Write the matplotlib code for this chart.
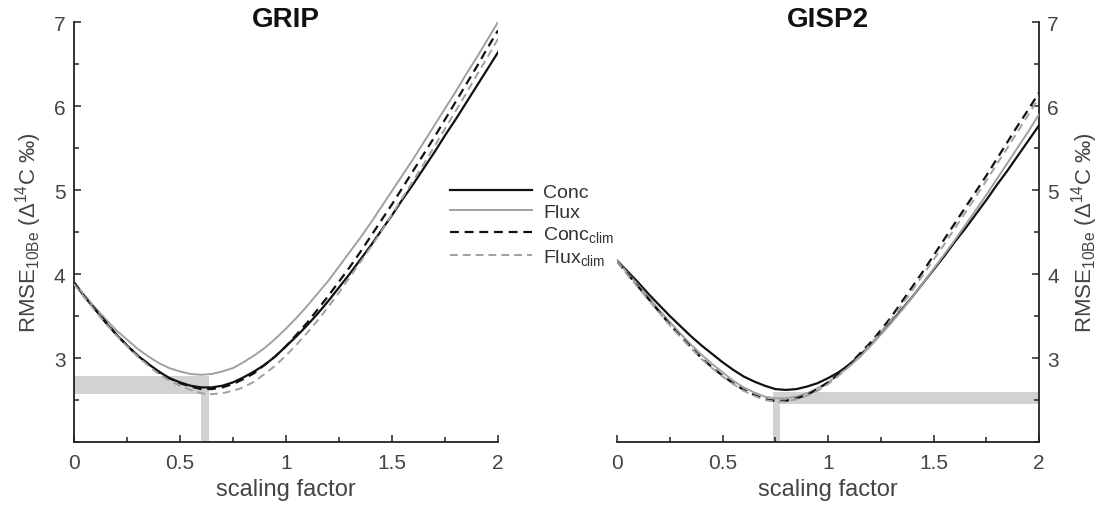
import numpy as np
import matplotlib
matplotlib.use('Agg')
from matplotlib import pyplot as plt
from matplotlib.ticker import MultipleLocator

plt.rcParams['font.family'] = ['Liberation Sans', 'DejaVu Sans']
plt.rcParams['mathtext.fontset'] = 'custom'
plt.rcParams['mathtext.rm'] = 'Liberation Sans'
plt.rcParams['mathtext.it'] = 'Liberation Sans:italic'

# scaling factors at which RMSE was evaluated
scale = np.round(np.arange(0, 2.001, 0.05), 2)

# GRIP RMSE curves (permil)
grip_conc = [3.90, 3.73, 3.58, 3.42, 3.28, 3.15, 3.03, 2.93, 2.84, 2.76,
             2.71, 2.67, 2.65, 2.65, 2.67, 2.71, 2.77, 2.84, 2.92, 3.02,
             3.14, 3.26, 3.39, 3.53, 3.68, 3.84, 4.00, 4.17, 4.34, 4.52,
             4.70, 4.89, 5.07, 5.26, 5.45, 5.65, 5.84, 6.04, 6.24, 6.44, 6.64]
grip_flux = [3.90, 3.75, 3.60, 3.46, 3.33, 3.22, 3.11, 3.02, 2.94, 2.88,
             2.84, 2.81, 2.80, 2.81, 2.84, 2.88, 2.95, 3.03, 3.12, 3.23,
             3.35, 3.48, 3.62, 3.77, 3.92, 4.09, 4.26, 4.43, 4.61, 4.80,
             4.99, 5.18, 5.37, 5.57, 5.77, 5.97, 6.17, 6.38, 6.58, 6.79, 7.00]
grip_conc_clim = [3.90, 3.73, 3.58, 3.43, 3.28, 3.15, 3.03, 2.93, 2.83, 2.76,
                  2.70, 2.66, 2.63, 2.63, 2.65, 2.69, 2.75, 2.82, 2.92, 3.02,
                  3.14, 3.28, 3.42, 3.58, 3.74, 3.91, 4.08, 4.26, 4.45, 4.64,
                  4.83, 5.03, 5.23, 5.43, 5.63, 5.84, 6.05, 6.26, 6.47, 6.69, 6.90]
grip_flux_clim = [3.88, 3.72, 3.56, 3.41, 3.27, 3.14, 3.02, 2.91, 2.81, 2.73,
                  2.67, 2.62, 2.58, 2.57, 2.58, 2.61, 2.65, 2.72, 2.81, 2.91,
                  3.03, 3.16, 3.30, 3.45, 3.61, 3.78, 3.96, 4.14, 4.32, 4.51,
                  4.71, 4.91, 5.11, 5.31, 5.52, 5.73, 5.94, 6.15, 6.37, 6.58, 6.80]

# GISP2 RMSE curves (permil)
gisp_conc = [4.16, 4.03, 3.90, 3.76, 3.63, 3.50, 3.38, 3.26, 3.15, 3.05,
             2.95, 2.86, 2.78, 2.72, 2.67, 2.63, 2.62, 2.63, 2.66, 2.70,
             2.76, 2.83, 2.92, 3.03, 3.15, 3.29, 3.43, 3.58, 3.73, 3.89,
             4.05, 4.21, 4.38, 4.54, 4.71, 4.88, 5.06, 5.23, 5.41, 5.59, 5.77]
gisp_flux = [4.16, 4.01, 3.87, 3.72, 3.57, 3.43, 3.29, 3.16, 3.04, 2.93,
             2.83, 2.73, 2.65, 2.59, 2.54, 2.52, 2.52, 2.54, 2.58, 2.64,
             2.71, 2.80, 2.90, 3.01, 3.14, 3.28, 3.42, 3.57, 3.73, 3.89,
             4.06, 4.23, 4.40, 4.58, 4.76, 4.94, 5.13, 5.32, 5.51, 5.70, 5.90]
gisp_conc_clim = [4.15, 4.00, 3.85, 3.70, 3.55, 3.40, 3.26, 3.13, 3.00, 2.89,
                  2.79, 2.70, 2.62, 2.56, 2.51, 2.49, 2.49, 2.52, 2.56, 2.63,
                  2.71, 2.81, 2.92, 3.05, 3.18, 3.33, 3.49, 3.67, 3.85, 4.03,
                  4.22, 4.41, 4.60, 4.79, 4.98, 5.17, 5.37, 5.57, 5.77, 5.96, 6.16]
gisp_flux_clim = [4.15, 3.99, 3.84, 3.69, 3.54, 3.39, 3.25, 3.12, 2.99, 2.88,
                  2.78, 2.69, 2.61, 2.55, 2.50, 2.48, 2.48, 2.51, 2.55, 2.61,
                  2.69, 2.79, 2.90, 3.02, 3.16, 3.31, 3.46, 3.63, 3.81, 3.99,
                  4.17, 4.35, 4.54, 4.73, 4.92, 5.11, 5.31, 5.50, 5.70, 5.90, 6.10]

# range of best scaling factor and of minimum RMSE for each core
grip_best_scale = [0.60, 0.635]
grip_min_rmse = [2.57, 2.79]
gisp_best_scale = [0.74, 0.77]
gisp_min_rmse = [2.45, 2.60]

labels = ['Conc', 'Flux', r'Conc$_{\rm clim}$', r'Flux$_{\rm clim}$']
styles = [dict(color='#111111', lw=1.6, ls='-'),
          dict(color='#a0a0a0', lw=1.4, ls='-'),
          dict(color='#111111', lw=1.6, ls=(0, (4, 2.6))),
          dict(color='#a0a0a0', lw=1.4, ls=(0, (4, 2.6)))]
band = '#d2d2d2'
ylab = r'RMSE$_{\rm 10Be}$ (Δ$^{\rm 14}$C ‰)'

fig = plt.figure(figsize=(11.07, 5.06), dpi=100)
axL = fig.add_axes([0.0668, 0.1245, 0.3831, 0.83])
axR = fig.add_axes([0.5574, 0.1245, 0.3812, 0.83])


def styleAxis(ax, side, title):
    '''MATLAB-like axis: two spines, inward ticks, halves as minor ticks'''
    ax.set_xlim(0, 2)
    ax.set_ylim(2, 7)
    ax.set_xticks([0, 0.5, 1, 1.5, 2])
    ax.set_xticklabels(['0', '0.5', '1', '1.5', '2'])
    ax.set_yticks([3, 4, 5, 6, 7])
    ax.xaxis.set_minor_locator(MultipleLocator(0.25))
    ax.yaxis.set_minor_locator(MultipleLocator(0.5))
    for s in ['top', 'left', 'right']:
        ax.spines[s].set_visible(False)
    ax.spines[side].set_visible(True)
    for s in ['bottom', side]:
        ax.spines[s].set_linewidth(1.3)
        ax.spines[s].set_color('#222222')
    ax.tick_params(which='both', direction='in', colors='#222222',
                   labelcolor='#444444', labelsize=15, width=1.1)
    ax.tick_params(axis='x', which='both', pad=8)
    ax.tick_params(axis='y', which='both', pad=6)
    ax.tick_params(which='major', length=5)
    ax.tick_params(which='minor', length=3.5)
    if side == 'right':
        ax.yaxis.tick_right()
        ax.yaxis.set_label_position('right')
    ax.set_xlabel('scaling factor', fontsize=17, color='#444444', labelpad=4)
    ax.set_ylabel(ylab, fontsize=16, color='#444444', labelpad=7)
    ax.text(0.5, 1.007, title, transform=ax.transAxes, ha='center', va='center',
            fontsize=20, fontweight='bold', color='#111111')


# GRIP panel
axL.fill_between([0, grip_best_scale[1]], grip_min_rmse[0], grip_min_rmse[1],
                 color=band, lw=0, zorder=1)
axL.fill_between(grip_best_scale, 2, grip_min_rmse[1], color=band, lw=0, zorder=1)
for y, lab, st in zip([grip_conc, grip_flux, grip_conc_clim, grip_flux_clim],
                      labels, styles):
    axL.plot(scale, y, label=lab, zorder=3, **st)
styleAxis(axL, 'left', 'GRIP')

# GISP2 panel
axR.fill_between([gisp_best_scale[0], 2], gisp_min_rmse[0], gisp_min_rmse[1],
                 color=band, lw=0, zorder=1)
axR.fill_between(gisp_best_scale, 2, gisp_min_rmse[1], color=band, lw=0, zorder=1)
for y, st in zip([gisp_conc, gisp_flux, gisp_conc_clim, gisp_flux_clim], styles):
    axR.plot(scale, y, zorder=3, **st)
styleAxis(axR, 'right', 'GISP2')

leg = axL.legend(loc='upper left', bbox_to_anchor=(0.868, 0.635), frameon=False,
                 fontsize=14, handlelength=4.2, handletextpad=0.6,
                 labelspacing=0.15, borderaxespad=0)
for t in leg.get_texts():
    t.set_color('#333333')

fig.savefig('out.png', dpi=100)
